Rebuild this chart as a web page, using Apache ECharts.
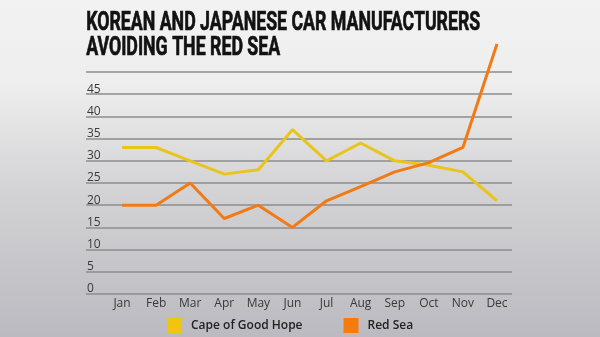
<!DOCTYPE html>
<html><head><meta charset="utf-8">
<script src="https://cdn.jsdelivr.net/npm/echarts@6/dist/echarts.min.js"></script>
<style>html,body{margin:0;padding:0;}#c{width:600px;height:337px;background:linear-gradient(to bottom,#f2f2f2 0%,#eeeeee 25%,#d4d4d6 55%,#babac0 100%);}</style>
</head><body><div id="c"></div>
<script>
const months = ['Jan','Feb','Mar','Apr','May','Jun','Jul','Aug','Sep','Oct','Nov','Dec'];
const capeOfGoodHope = [33, 33, 30, 27, 28, 37, 30, 34, 30, 29, 27.5, 21];
const redSea = [20, 20, 25, 17, 20, 15, 21, 24.2, 27.5, 29.6, 33, 56.3];
const yTicks = [0, 5, 10, 15, 20, 25, 30, 35, 40, 45, 50];
const titleLines = ['KOREAN AND JAPANESE CAR MANUFACTURERS', 'AVOIDING THE RED SEA'];

const titleFont = 'bold 26px Roboto';
const cv = document.createElement('canvas').getContext('2d');
cv.font = titleFont;
const sx = 394 / cv.measureText(titleLines[0]).width;

const chart = echarts.init(document.getElementById('c'), null, {renderer:'canvas'});
const labelFont = {fontFamily:'Open Sans', fontSize:12, color:'#3a3a3a'};
chart.setOption({
  backgroundColor:'transparent',
  animation:false,
  graphic:titleLines.map((t, i) => ({
    type:'text', left:86, top:10 + i*25, scaleX:sx, originX:0,
    style:{text:t, font:titleFont, fill:'#121212', stroke:'#121212', lineWidth:0.7}
  })),
  legend:{left:162, top:313, itemWidth:15, itemHeight:15, itemGap:41, icon:'rect',
    textStyle:{fontFamily:'Open Sans', fontWeight:600, fontSize:12, color:'#222', padding:[0,0,0,4]},
    data:['Cape of Good Hope','Red Sea']},
  grid:[
    {left:86, right:88, top:72, bottom:43},
    {left:122, right:103, top:72, bottom:43}
  ],
  xAxis:[
    {gridIndex:0, type:'value', show:false, min:0, max:1},
    {gridIndex:1, type:'category', data:months, boundaryGap:false,
      axisLine:{show:false}, axisTick:{show:false},
      axisLabel:Object.assign({margin:4}, labelFont)}
  ],
  yAxis:[
    {gridIndex:0, type:'value', min:yTicks[0], max:yTicks[yTicks.length-1], interval:5,
      axisLine:{show:false}, axisTick:{show:false},
      splitLine:{show:true, lineStyle:{color:'#8c8c8c', width:1.5}},
      axisLabel:Object.assign({inside:true, margin:1, verticalAlign:'bottom', padding:[0,0,-1,0],
        formatter:v => v === 50 ? '' : String(v)}, labelFont)},
    {gridIndex:1, type:'value', min:0, max:50, interval:5, show:false, splitLine:{show:false}}
  ],
  series:[
    {name:'Cape of Good Hope', type:'line', xAxisIndex:1, yAxisIndex:1, data:capeOfGoodHope,
      symbol:'none', clip:false, color:'#f2c40f', lineStyle:{width:3, color:'#e9c51c'}},
    {name:'Red Sea', type:'line', xAxisIndex:1, yAxisIndex:1, data:redSea,
      symbol:'none', clip:false, color:'#f57b0c', lineStyle:{width:3, color:'#f27a14'}}
  ]
});
</script></body></html>
